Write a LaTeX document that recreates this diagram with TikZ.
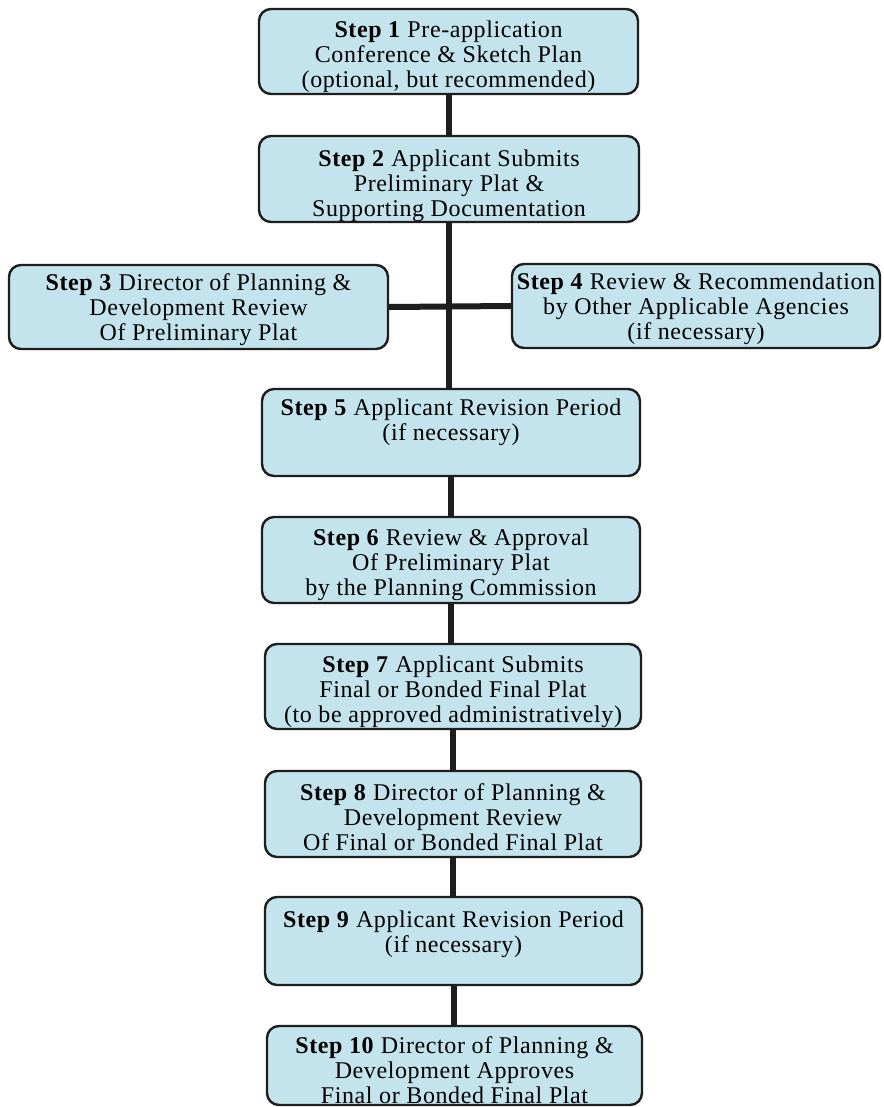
\documentclass[tikz,border=0pt]{standalone}
\usepackage{fontspec}
\setmainfont{Liberation Serif}[LetterSpace=2.5]
\definecolor{boxfill}{RGB}{196,228,237}
\definecolor{ink}{RGB}{30,30,30}
\newcommand\toppad[1]{\rule{0pt}{#1}}
\tikzset{
  stepbox/.style={draw=ink, line width=2.4pt, rounded corners=12pt, fill=boxfill,
    align=center, text=black, font=\fontsize{24}{25}\selectfont, inner sep=0pt},
  link/.style={line width=6pt, draw=ink}
}
\begin{document}
\begin{tikzpicture}[x=1pt,y=-1pt]
\useasboundingbox (0,0) rectangle (883,1107);
\fill[white] (0,0) rectangle (883,1107);

\node[stepbox, minimum width=379pt, minimum height=85pt] (s1) at (448.5,51.5)
  {\toppad{26.5pt}\textbf{Step 1} Pre-application\\Conference \& Sketch Plan\\(optional, but recommended)};
\node[stepbox, minimum width=380pt, minimum height=86pt] (s2) at (449,179)
  {\toppad{30pt}\textbf{Step 2} Applicant Submits\\Preliminary Plat \&\\Supporting Documentation};
\node[stepbox, minimum width=379pt, minimum height=84pt] (s3) at (198.5,307)
  {\toppad{22.5pt}\textbf{Step 3} Director of Planning \&\\Development Review\\Of Preliminary Plat};
\node[stepbox, minimum width=368pt, minimum height=84pt] (s4) at (696,306)
  {\toppad{22.5pt}\textbf{Step 4} Review \& Recommendation\\by Other Applicable Agencies\\(if necessary)};
\node[stepbox, minimum width=378pt, minimum height=87pt] (s5) at (451,432.5)
  {\toppad{22.5pt}\textbf{Step 5} Applicant Revision Period\\(if necessary)\\\strut};
\node[stepbox, minimum width=378pt, minimum height=86pt] (s6) at (451,560)
  {\toppad{26.5pt}\textbf{Step 6} Review \& Approval\\Of Preliminary Plat\\by the Planning Commission};
\node[stepbox, minimum width=376pt, minimum height=85pt] (s7) at (453,686.5)
  {\toppad{26.5pt}\textbf{Step 7} Applicant Submits\\Final or Bonded Final Plat\\(to be approved administratively)};
\node[stepbox, minimum width=376pt, minimum height=86pt] (s8) at (453,814)
  {\toppad{23.5pt}\textbf{Step 8} Director of Planning \&\\Development Review\\Of Final or Bonded Final Plat};
\node[stepbox, minimum width=377pt, minimum height=84pt] (s9) at (453.5,941)
  {\toppad{30.5pt}\textbf{Step 9} Applicant Revision Period\\(if necessary)\\\strut};
\node[stepbox, minimum width=375pt, minimum height=79pt] (s10) at (454.5,1065.5)
  {\toppad{25.5pt}\textbf{Step 10} Director of Planning \&\\Development Approves\\Final or Bonded Final Plat};

\draw[link] (s1.south) -- (s1.south |- s2.north);
\draw[link] (s2.south) -- (s2.south |- s5.north);
\draw[link] (s3.east) -- (s4.west);
\draw[link] (s5.south) -- (s5.south |- s6.north);
\draw[link] (s6.south) -- (s6.south |- s7.north);
\draw[link] (s7.south) -- (s7.south |- s8.north);
\draw[link] (s8.south) -- (s8.south |- s9.north);
\draw[link] (s9.south) -- (s9.south |- s10.north);
\end{tikzpicture}
\end{document}
